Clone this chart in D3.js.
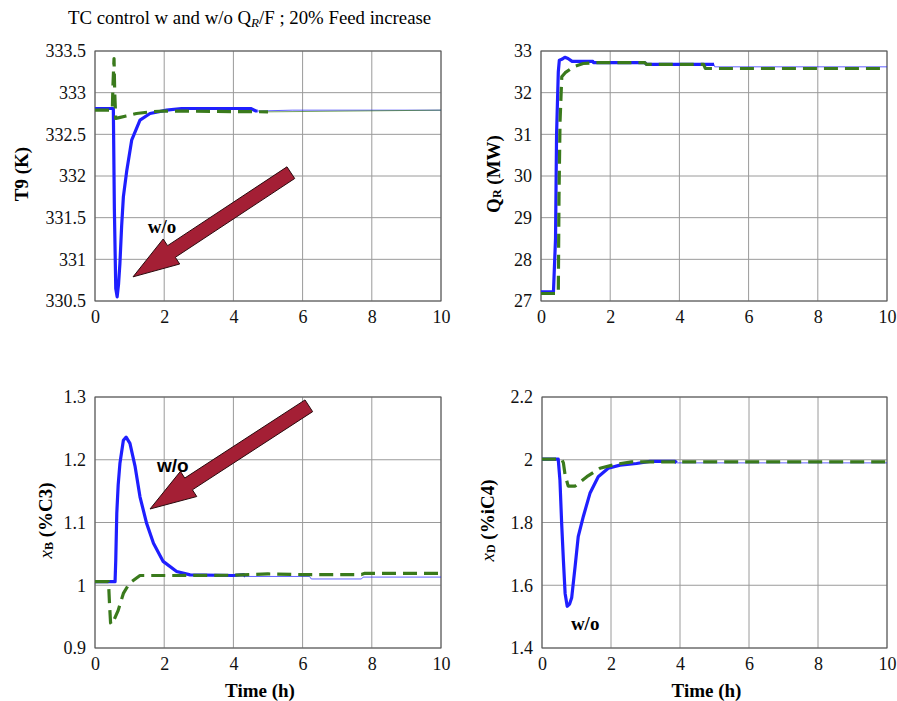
<!DOCTYPE html>
<html>
<head>
<meta charset="utf-8">
<script src="https://cdn.jsdelivr.net/npm/d3@7"></script>
<style>
  body { margin: 0; background: #fff; }
  svg { display: block; }
  svg text { font-family: "Liberation Serif", "Times New Roman", serif; }
  svg text.sans { font-family: "Liberation Sans", Arial, sans-serif; }
</style>
</head>
<body>
<svg id="chart" width="897" height="701"></svg>
<script>
// time axis shared by all four panels
const timeTicks = [0, 2, 4, 6, 8, 10]

// T9 (K): [time h, value]
const t9Without = [[0, 332.81], [0.53, 332.81], [0.56, 331.6], [0.6, 330.65], [0.64, 330.55], [0.68, 330.7], [0.72, 330.95], [0.77, 331.4], [0.82, 331.75], [0.92, 332.07], [1.06, 332.43], [1.3, 332.67], [1.59, 332.75], [2.07, 332.79], [2.5, 332.81], [4.5, 332.81], [4.65, 332.78], [4.7, 332.78], [5.7, 332.79], [10, 332.79]]
const t9With = [[0, 332.79], [0.5, 332.79], [0.52, 333.1], [0.55, 333.41], [0.57, 333.0], [0.6, 332.69], [0.7, 332.7], [0.9, 332.72], [1.2, 332.75], [1.6, 332.77], [2, 332.78], [5, 332.77], [10, 332.79]]
const t9Ticks = [330.5, 331, 331.5, 332, 332.5, 333, 333.5]

// QR (MW)
const qrWithout = [[0, 27.22], [0.36, 27.22], [0.42, 28.5], [0.45, 31.0], [0.5, 32.5], [0.53, 32.78], [0.6, 32.8], [0.69, 32.85], [0.78, 32.82], [0.9, 32.75], [1.5, 32.75], [1.52, 32.72], [3.0, 32.72], [3.05, 32.68], [5.0, 32.68], [5.02, 32.62], [10, 32.62]]
const qrWith = [[0, 27.18], [0.5, 27.18], [0.52, 29.5], [0.55, 31.3], [0.6, 32.38], [0.7, 32.48], [0.84, 32.56], [1.0, 32.64], [1.22, 32.7], [1.6, 32.72], [3.0, 32.72], [3.05, 32.68], [4.7, 32.68], [4.75, 32.58], [10, 32.58]]
const qrTicks = [27, 28, 29, 30, 31, 32, 33]

// xB (%C3)
const xbWithout = [[0, 1.0057], [0.58, 1.0057], [0.6, 1.04], [0.63, 1.115], [0.67, 1.16], [0.72, 1.194], [0.82, 1.231], [0.9, 1.236], [1.01, 1.226], [1.16, 1.189], [1.3, 1.141], [1.49, 1.099], [1.69, 1.067], [1.97, 1.038], [2.36, 1.022], [2.75, 1.0165], [4.0, 1.0155], [4.3, 1.017], [4.35, 1.014], [6.2, 1.014], [6.25, 1.01], [7.7, 1.01], [7.75, 1.013], [10, 1.013]]
const xbWith = [[0, 1.0057], [0.39, 1.0057], [0.42, 0.97], [0.45, 0.94], [0.48, 0.9375], [0.55, 0.945], [0.67, 0.96], [0.82, 0.987], [0.95, 0.999], [1.06, 1.0057], [1.3, 1.0155], [2, 1.0155], [4, 1.016], [5, 1.018], [6, 1.017], [7.7, 1.017], [7.8, 1.019], [10, 1.019]]
const xbTicks = [0.9, 1, 1.1, 1.2, 1.3]

// xD (%iC4)
const xdWithout = [[0, 2.002], [0.47, 2.002], [0.52, 1.935], [0.57, 1.797], [0.62, 1.68], [0.67, 1.574], [0.73, 1.533], [0.8, 1.54], [0.86, 1.56], [0.96, 1.66], [1.05, 1.755], [1.2, 1.82], [1.39, 1.893], [1.63, 1.946], [1.92, 1.973], [2.26, 1.983], [2.74, 1.988], [3.13, 1.995], [3.86, 1.995], [3.9, 1.99], [10, 1.99]]
const xdWith = [[0, 2.002], [0.57, 2.002], [0.62, 1.99], [0.67, 1.951], [0.76, 1.916], [0.96, 1.916], [1.3, 1.946], [1.68, 1.973], [2.16, 1.986], [2.6, 1.993], [10, 1.993]]
const xdTicks = [1.4, 1.6, 1.8, 2, 2.2]

const BLUE = '#1f1fff'
const GREEN = '#3a7a1c'
const ARROW = '#a41f35'

const svg = d3.select('#chart')

// title
const title = svg.append('text')
  .attr('x', 68).attr('y', 24)
  .style('font-size', '18.8px')
title.append('tspan').text('TC control  w and w/o Q')
title.append('tspan').style('font-style', 'italic').style('font-size', '13px').attr('dy', 3).text('R')
title.append('tspan').attr('dy', -3).text('/F ; 20% Feed increase')

const panels = [
  { left: 95, top: 51, right: 441, bottom: 301, ticks: t9Ticks, without: t9Without, with: t9With, cutWithout: 4.7, cutWith: 5, label: 'T9' },
  { left: 541, top: 51, right: 887, bottom: 301, ticks: qrTicks, without: qrWithout, with: qrWith, cutWithout: 5, cutWith: 10, label: 'QR' },
  { left: 95, top: 397, right: 441, bottom: 648, ticks: xbTicks, without: xbWithout, with: xbWith, cutWithout: 4.35, cutWith: 10, label: 'xB', timeLabel: true },
  { left: 542, top: 397, right: 887, bottom: 648, ticks: xdTicks, without: xdWithout, with: xdWith, cutWithout: 3.9, cutWith: 10, label: 'xD', timeLabel: true }
]

/**
 * Draws a filled block arrow, tail and tip given in data space.
 */
function drawArrow (g, x, y, from, to) {
  const x0 = x(from[0]); const y0 = y(from[1])
  const x1 = x(to[0]); const y1 = y(to[1])
  const len = Math.hypot(x1 - x0, y1 - y0)
  const ux = (x1 - x0) / len; const uy = (y1 - y0) / len
  const nx = -uy; const ny = ux
  const shaft = 7; const head = 15; const headLen = 46
  const bx = x1 - ux * headLen; const by = y1 - uy * headLen
  const pts = [
    [x0 + nx * shaft, y0 + ny * shaft],
    [bx + nx * shaft, by + ny * shaft],
    [bx + nx * head, by + ny * head],
    [x1, y1],
    [bx - nx * head, by - ny * head],
    [bx - nx * shaft, by - ny * shaft],
    [x0 - nx * shaft, y0 - ny * shaft]
  ]
  g.append('polygon')
    .attr('points', pts.map(p => p.join(',')).join(' '))
    .attr('fill', ARROW)
    .attr('stroke', '#2a0a0e')
    .attr('stroke-width', 1)
}

panels.forEach(p => {
  const x = d3.scaleLinear().domain([0, 10]).range([p.left, p.right])
  const y = d3.scaleLinear().domain(d3.extent(p.ticks)).range([p.bottom, p.top])
  const g = svg.append('g')

  // grid
  g.selectAll('.vgrid').data(timeTicks).join('line')
    .attr('x1', d => x(d)).attr('x2', d => x(d))
    .attr('y1', p.top).attr('y2', p.bottom)
    .attr('stroke', '#9a9a9a').attr('stroke-width', 1)
  g.selectAll('.hgrid').data(p.ticks).join('line')
    .attr('x1', p.left).attr('x2', p.right)
    .attr('y1', d => y(d)).attr('y2', d => y(d))
    .attr('stroke', '#9a9a9a').attr('stroke-width', 1)

  g.append('rect')
    .attr('x', p.left).attr('y', p.top)
    .attr('width', p.right - p.left).attr('height', p.bottom - p.top)
    .attr('fill', 'none').attr('stroke', '#555').attr('stroke-width', 1)

  // axes
  const xAxis = g.append('g').attr('transform', `translate(0,${p.bottom})`)
    .call(d3.axisBottom(x).tickValues(timeTicks).tickSize(0).tickPadding(9).tickFormat(d3.format('d')))
  const yAxis = g.append('g').attr('transform', `translate(${p.left},0)`)
    .call(d3.axisLeft(y).tickValues(p.ticks).tickSize(0).tickPadding(9).tickFormat(d => String(+d.toFixed(2))))
  ;[xAxis, yAxis].forEach(a => {
    a.select('.domain').remove()
    a.attr('font-family', null)
    a.selectAll('text').style('font-size', '18px').attr('fill', '#111')
  })

  const line = d3.line().x(d => x(d[0])).y(d => y(d[1]))

  function drawSeries (data, cut, color, dash) {
    const thick = data.filter(d => d[0] <= cut)
    const thin = data.filter(d => d[0] >= cut)
    if (thin.length > 1) {
      g.append('path').attr('d', line(thin))
        .attr('fill', 'none').attr('stroke', color).attr('stroke-width', 1)
        .attr('opacity', 0.7)
    }
    g.append('path').attr('d', line(thick))
      .attr('fill', 'none').attr('stroke', color).attr('stroke-width', 3.2)
      .attr('stroke-linejoin', 'round')
      .attr('stroke-dasharray', dash)
  }
  drawSeries(p.without, p.cutWithout, BLUE, null)
  drawSeries(p.with, p.cutWith, GREEN, '14,7')

  // y title
  const cx = p.left === 95 ? (p.top < 100 ? 21 : 45) : (p.top < 100 ? 493 : 487)
  const cy = (p.top + p.bottom) / 2 - 2
  const yt = svg.append('text')
    .attr('transform', `translate(${cx},${cy}) rotate(-90)`)
    .attr('text-anchor', 'middle')
    .attr('dominant-baseline', 'central')
    .style('font-size', '19px').style('font-weight', 'bold')
  if (p.label === 'T9') {
    yt.text('T9 (K)')
  } else if (p.label === 'QR') {
    yt.append('tspan').text('Q')
    yt.append('tspan').style('font-size', '12px').attr('dy', 4).text('R')
    yt.append('tspan').attr('dy', -4).text(' (MW)')
  } else {
    yt.append('tspan').style('font-style', 'italic').style('font-weight', 'normal').text('x')
    yt.append('tspan').style('font-size', '12px').attr('dy', 4).text(p.label === 'xB' ? 'B' : 'D')
    yt.append('tspan').attr('dy', -4).text(p.label === 'xB' ? ' (%C3)' : ' (%iC4)')
  }

  if (p.timeLabel) {
    svg.append('text')
      .attr('x', (p.left + p.right) / 2 - 8).attr('y', 697)
      .attr('text-anchor', 'middle')
      .style('font-size', '19px').style('font-weight', 'bold')
      .text('Time (h)')
  }

  // annotations
  if (p.label === 'T9') {
    drawArrow(g, x, y, [5.66, 332.04], [1.10, 330.79])
    g.append('text').attr('x', x(1.94)).attr('y', y(331.32))
      .attr('text-anchor', 'middle').style('font-size', '19px').style('font-weight', 'bold').text('w/o')
  } else if (p.label === 'xB') {
    drawArrow(g, x, y, [6.18, 1.286], [1.59, 1.1215])
    g.append('text').attr('class', 'sans').attr('x', x(2.25)).attr('y', y(1.18))
      .attr('text-anchor', 'middle')
      .style('font-size', '19px').style('font-weight', 'bold').text('w/o')
  } else if (p.label === 'xD') {
    g.append('text').attr('x', x(1.25)).attr('y', y(1.457))
      .attr('text-anchor', 'middle').style('font-size', '19px').style('font-weight', 'bold').text('w/o')
  }
})
</script>
</body>
</html>
